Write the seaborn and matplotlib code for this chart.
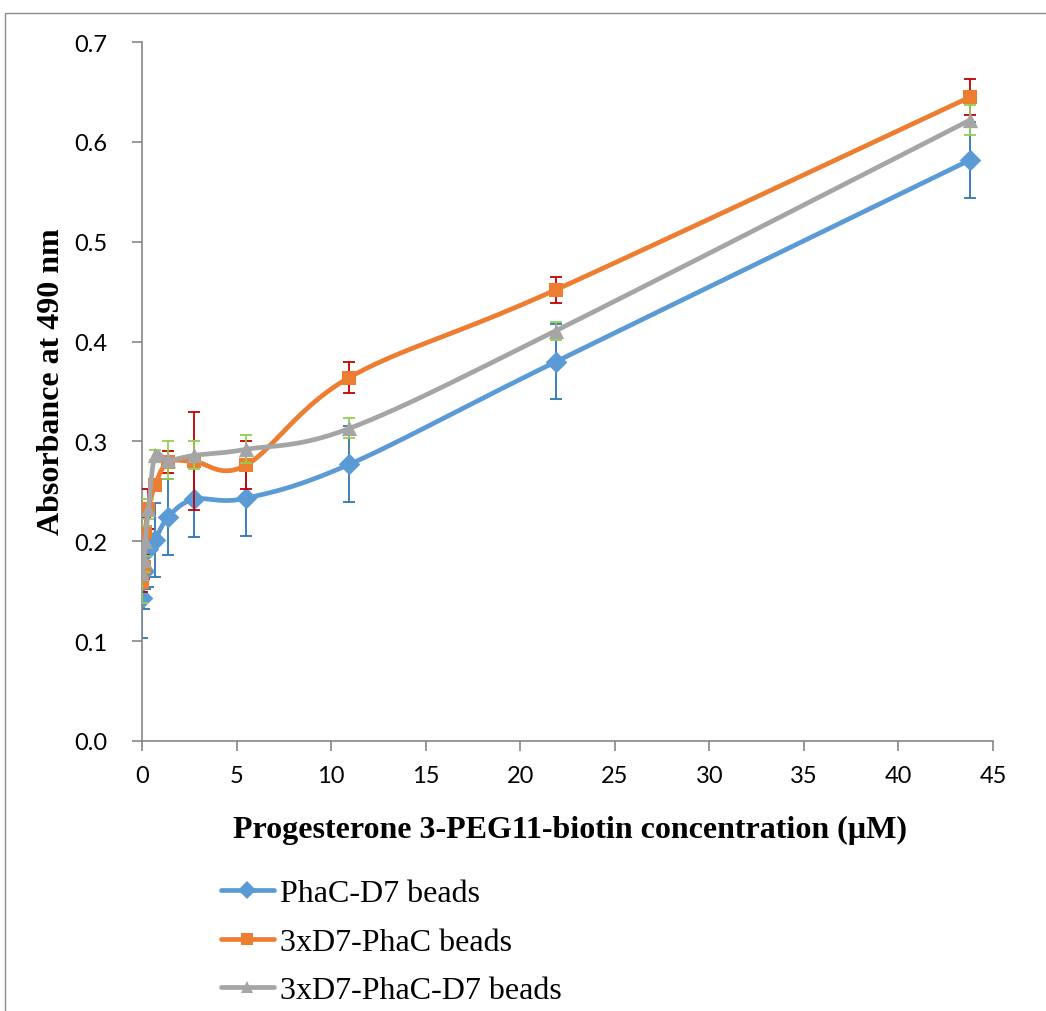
import numpy as np
import pandas as pd
import matplotlib
matplotlib.use('Agg')
import matplotlib.pyplot as plt
from matplotlib.lines import Line2D
from matplotlib.patches import Rectangle
import seaborn as sns

# concentration of progesterone 3-PEG11-biotin (uM), 2-fold dilution series
conc = [0, 0.086, 0.17, 0.34, 0.69, 1.37, 2.74, 5.48, 10.96, 21.9, 43.8]

series = ['PhaC-D7 beads', '3xD7-PhaC beads', '3xD7-PhaC-D7 beads']
phac_d7 = [0.143, 0.170, 0.190, 0.192, 0.201, 0.224, 0.242, 0.243, 0.277, 0.380, 0.582]
phac_d7_err = [0.040, 0.038, 0.038, 0.038, 0.037, 0.038, 0.038, 0.038, 0.038, 0.038, 0.038]
d7_phac = [0.159, 0.174, 0.209, 0.232, 0.256, 0.279, 0.280, 0.276, 0.364, 0.452, 0.645]
d7_phac_err = [0.010, 0.012, 0.015, 0.020, 0.006, 0.011, 0.049, 0.024, 0.016, 0.013, 0.018]
d7_phac_d7 = [0.168, 0.181, 0.200, 0.232, 0.286, 0.281, 0.286, 0.292, 0.313, 0.411, 0.622]
d7_phac_d7_err = [0.030, 0.012, 0.015, 0.010, 0.005, 0.019, 0.014, 0.014, 0.010, 0.009, 0.015]

line_colors = ['#5B9BD5', '#ED7D31', '#A5A5A5']
err_colors = ['#2E75B6', '#C00000', '#92D050']
markers = ['D', 's', '^']
msizes = [11, 10, 11]

df = pd.DataFrame({
    'conc': conc * 3,
    'abs': phac_d7 + d7_phac + d7_phac_d7,
    'err': phac_d7_err + d7_phac_err + d7_phac_d7_err,
    'series': np.repeat(series, len(conc)),
})

sns.set_style('white')
plt.rcParams['font.family'] = ['Lato', 'DejaVu Sans']
plt.rcParams['text.color'] = 'black'

W, H = 1046, 1012
fig = plt.figure(figsize=(W / 100, H / 100), dpi=100)
ax = fig.add_axes([142 / W, 1 - 742 / H, (993 - 142) / W, (742 - 43) / H])
ax.set_xlim(0, 45)
ax.set_ylim(0, 0.7)

# outer chart border (Excel chart area)
fig.patches.append(Rectangle((5 / W, -0.1), 1.2, 1 - 14 / H + 0.1, transform=fig.transFigure,
                             fill=False, edgecolor='#8C8C8C', linewidth=1.0))


def smooth_curve(xs, ys):
    # Excel-style smoothed line: Catmull-Rom bezier in display space
    pts = ax.transData.transform(np.column_stack([xs, ys]))
    n = len(pts)
    out = [pts[0]]
    t = np.linspace(0, 1, 25)[1:, None]
    for i in range(n - 1):
        p0 = pts[max(i - 1, 0)]
        p1 = pts[i]
        p2 = pts[i + 1]
        p3 = pts[min(i + 2, n - 1)]
        c1 = p1 + (p2 - p0) / 6
        c2 = p2 - (p3 - p1) / 6
        seg = ((1 - t) ** 3) * p1 + 3 * ((1 - t) ** 2) * t * c1 + 3 * (1 - t) * t ** 2 * c2 + t ** 3 * p2
        out.extend(seg)
    out = ax.transData.inverted().transform(np.array(out))
    return out[:, 0], out[:, 1]


for i, name in enumerate(series):
    sub = df[df['series'] == name]
    ax.errorbar(sub['conc'], sub['abs'], yerr=sub['err'], fmt='none', ecolor=err_colors[i],
                elinewidth=1.3, capsize=4.5, capthick=1.3, zorder=2 + i)
    sx, sy = smooth_curve(sub['conc'].values, sub['abs'].values)
    ax.plot(sx, sy, color=line_colors[i], linewidth=3.4, solid_capstyle='round', zorder=2 + i)
    sns.scatterplot(data=sub, x='conc', y='abs', marker=markers[i], s=msizes[i] ** 2,
                    color=line_colors[i], edgecolor=line_colors[i], linewidth=0, ax=ax,
                    zorder=2.5 + i, legend=False)

ax.set_xticks(range(0, 46, 5))
ax.set_yticks(np.arange(0, 0.71, 0.1))
ax.set_yticklabels([f'{v:.1f}' for v in np.arange(0, 0.71, 0.1)])
ax.tick_params(axis='both', which='major', labelsize=17, color='#868686', length=7, width=1.2,
               direction='out', left=True, bottom=True, labelcolor='black')
ax.tick_params(axis='x', pad=10)
ax.tick_params(axis='y', pad=18)
for side in ['top', 'right']:
    ax.spines[side].set_visible(False)
for side in ['left', 'bottom']:
    ax.spines[side].set_color('#868686')
    ax.spines[side].set_linewidth(1.2)
ax.set_xlabel('')
ax.set_ylabel('')

fig.text(570 / W, 1 - 830 / H, 'Progesterone 3-PEG11-biotin concentration (µM)', ha='center', va='center',
         fontsize=23, fontweight='bold', color='black', family=['Liberation Serif', 'DejaVu Serif'])
fig.text(52 / W, 1 - 382 / H, 'Absorbance at 490 nm', ha='center', va='center', rotation=90,
         fontsize=23, fontweight='bold', color='black', family=['Liberation Serif', 'DejaVu Serif'])

handles = [Line2D([0], [0], color=line_colors[i], linewidth=3.4, marker=markers[i],
                  markersize=msizes[i] * 0.85, markeredgewidth=0) for i in range(3)]
fig.legend(handles, series, loc='upper left', bbox_to_anchor=(205 / W, 1 - 864 / H), frameon=False,
           prop={'family': ['Liberation Serif'], 'size': 23}, handlelength=1.65, handletextpad=0.2,
           labelspacing=0.6, borderpad=0, labelcolor='black')

fig.savefig('out.png', dpi=100)
